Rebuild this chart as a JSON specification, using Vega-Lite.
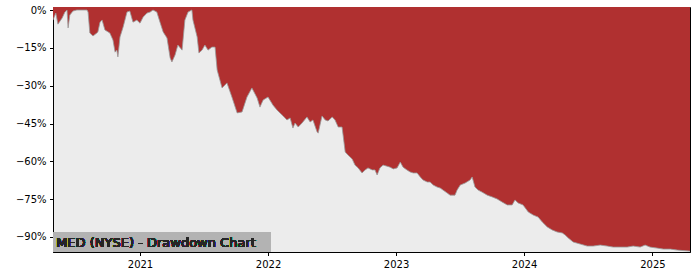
{
  "$schema": "https://vega.github.io/schema/vega-lite/v6.json",
  "width": 637,
  "height": 245,
  "autosize": "none",
  "padding": {"left": 53, "top": 7, "right": 10, "bottom": 28},
  "background": "#ffffff",
  "config": {
    "view": {"fill": "#ececec", "stroke": "#000000", "strokeWidth": 1},
    "axis": {"labelFont": "DejaVu Sans", "labelFontSize": 10, "labelColor": "#000000", "tickColor": "#000000", "tickSize": 3.5, "domainColor": "#000000", "grid": false, "title": null}
  },
  "data": {"values": [
    {"date": "2020-04-28", "dd": -4.0},
    {"date": "2020-05-06", "dd": -1.2},
    {"date": "2020-05-12", "dd": -5.6},
    {"date": "2020-05-24", "dd": -3.2},
    {"date": "2020-06-01", "dd": -0.8},
    {"date": "2020-06-07", "dd": 0},
    {"date": "2020-06-10", "dd": -7.1},
    {"date": "2020-06-15", "dd": -2.0},
    {"date": "2020-06-24", "dd": -0.4},
    {"date": "2020-07-05", "dd": 0},
    {"date": "2020-08-03", "dd": 0},
    {"date": "2020-08-06", "dd": -0.8},
    {"date": "2020-08-11", "dd": -9.1},
    {"date": "2020-08-20", "dd": -10.3},
    {"date": "2020-08-31", "dd": -9.1},
    {"date": "2020-09-03", "dd": -8.7},
    {"date": "2020-09-09", "dd": -4.8},
    {"date": "2020-09-15", "dd": -4.0},
    {"date": "2020-09-23", "dd": -7.9},
    {"date": "2020-10-07", "dd": -9.1},
    {"date": "2020-10-16", "dd": -11.9},
    {"date": "2020-10-22", "dd": -16.7},
    {"date": "2020-10-27", "dd": -15.9},
    {"date": "2020-10-30", "dd": -18.6},
    {"date": "2020-11-05", "dd": -10.7},
    {"date": "2020-11-14", "dd": -6.7},
    {"date": "2020-11-25", "dd": -0.8},
    {"date": "2020-12-03", "dd": -0.4},
    {"date": "2020-12-12", "dd": -4.8},
    {"date": "2020-12-23", "dd": -4.0},
    {"date": "2021-01-01", "dd": -5.2},
    {"date": "2021-01-10", "dd": -2.8},
    {"date": "2021-01-21", "dd": -1.2},
    {"date": "2021-01-30", "dd": -0.8},
    {"date": "2021-02-07", "dd": 0},
    {"date": "2021-02-18", "dd": -0.8},
    {"date": "2021-02-27", "dd": -4.8},
    {"date": "2021-03-08", "dd": -8.7},
    {"date": "2021-03-19", "dd": -11.1},
    {"date": "2021-03-28", "dd": -19.0},
    {"date": "2021-04-02", "dd": -20.6},
    {"date": "2021-04-11", "dd": -17.8},
    {"date": "2021-04-19", "dd": -13.9},
    {"date": "2021-05-01", "dd": -15.9},
    {"date": "2021-05-09", "dd": -4.0},
    {"date": "2021-05-18", "dd": -0.8},
    {"date": "2021-05-29", "dd": 0},
    {"date": "2021-06-01", "dd": -4.0},
    {"date": "2021-06-13", "dd": -10.7},
    {"date": "2021-06-18", "dd": -17.0},
    {"date": "2021-06-27", "dd": -15.9},
    {"date": "2021-07-05", "dd": -13.9},
    {"date": "2021-07-14", "dd": -15.9},
    {"date": "2021-07-25", "dd": -14.7},
    {"date": "2021-08-03", "dd": -14.7},
    {"date": "2021-08-09", "dd": -23.8},
    {"date": "2021-08-23", "dd": -30.9},
    {"date": "2021-09-06", "dd": -28.9},
    {"date": "2021-09-20", "dd": -34.5},
    {"date": "2021-10-05", "dd": -40.8},
    {"date": "2021-10-19", "dd": -40.4},
    {"date": "2021-11-02", "dd": -34.5},
    {"date": "2021-11-16", "dd": -30.9},
    {"date": "2021-12-01", "dd": -34.9},
    {"date": "2021-12-09", "dd": -38.5},
    {"date": "2021-12-18", "dd": -35.7},
    {"date": "2022-01-01", "dd": -34.5},
    {"date": "2022-01-15", "dd": -37.7},
    {"date": "2022-01-27", "dd": -39.7},
    {"date": "2022-02-04", "dd": -40.8},
    {"date": "2022-02-13", "dd": -42.0},
    {"date": "2022-02-24", "dd": -43.6},
    {"date": "2022-03-05", "dd": -42.8},
    {"date": "2022-03-13", "dd": -46.8},
    {"date": "2022-03-19", "dd": -44.8},
    {"date": "2022-03-28", "dd": -46.4},
    {"date": "2022-04-08", "dd": -44.8},
    {"date": "2022-04-22", "dd": -42.4},
    {"date": "2022-05-01", "dd": -44.4},
    {"date": "2022-05-09", "dd": -43.6},
    {"date": "2022-05-21", "dd": -48.4},
    {"date": "2022-05-24", "dd": -48.8},
    {"date": "2022-06-04", "dd": -42.0},
    {"date": "2022-06-13", "dd": -43.6},
    {"date": "2022-06-21", "dd": -44.0},
    {"date": "2022-07-03", "dd": -42.4},
    {"date": "2022-07-11", "dd": -43.6},
    {"date": "2022-07-20", "dd": -46.4},
    {"date": "2022-07-31", "dd": -46.4},
    {"date": "2022-08-03", "dd": -49.6},
    {"date": "2022-08-09", "dd": -56.3},
    {"date": "2022-08-17", "dd": -57.5},
    {"date": "2022-08-29", "dd": -59.1},
    {"date": "2022-09-06", "dd": -61.5},
    {"date": "2022-09-15", "dd": -62.6},
    {"date": "2022-09-26", "dd": -64.6},
    {"date": "2022-10-05", "dd": -63.4},
    {"date": "2022-10-13", "dd": -62.6},
    {"date": "2022-10-25", "dd": -63.4},
    {"date": "2022-11-02", "dd": -63.4},
    {"date": "2022-11-08", "dd": -65.4},
    {"date": "2022-11-16", "dd": -62.6},
    {"date": "2022-11-25", "dd": -61.5},
    {"date": "2022-12-06", "dd": -61.9},
    {"date": "2022-12-15", "dd": -62.3},
    {"date": "2022-12-24", "dd": -63.0},
    {"date": "2023-01-04", "dd": -62.6},
    {"date": "2023-01-13", "dd": -60.3},
    {"date": "2023-01-21", "dd": -62.3},
    {"date": "2023-02-01", "dd": -63.4},
    {"date": "2023-02-10", "dd": -64.2},
    {"date": "2023-02-19", "dd": -64.6},
    {"date": "2023-03-02", "dd": -64.6},
    {"date": "2023-03-11", "dd": -66.2},
    {"date": "2023-03-19", "dd": -67.4},
    {"date": "2023-03-31", "dd": -68.2},
    {"date": "2023-04-08", "dd": -68.2},
    {"date": "2023-04-17", "dd": -69.4},
    {"date": "2023-04-28", "dd": -70.2},
    {"date": "2023-05-07", "dd": -70.6},
    {"date": "2023-05-15", "dd": -71.4},
    {"date": "2023-05-27", "dd": -72.6},
    {"date": "2023-06-04", "dd": -73.4},
    {"date": "2023-06-18", "dd": -73.4},
    {"date": "2023-06-24", "dd": -71.4},
    {"date": "2023-07-03", "dd": -69.4},
    {"date": "2023-07-17", "dd": -68.6},
    {"date": "2023-07-31", "dd": -67.4},
    {"date": "2023-08-06", "dd": -66.2},
    {"date": "2023-08-14", "dd": -70.2},
    {"date": "2023-08-23", "dd": -71.4},
    {"date": "2023-09-03", "dd": -72.2},
    {"date": "2023-09-18", "dd": -73.4},
    {"date": "2023-10-02", "dd": -74.1},
    {"date": "2023-10-16", "dd": -74.9},
    {"date": "2023-10-30", "dd": -76.1},
    {"date": "2023-11-14", "dd": -77.3},
    {"date": "2023-11-28", "dd": -77.3},
    {"date": "2023-12-06", "dd": -75.3},
    {"date": "2023-12-15", "dd": -76.5},
    {"date": "2023-12-29", "dd": -77.3},
    {"date": "2024-01-13", "dd": -80.1},
    {"date": "2024-01-27", "dd": -81.3},
    {"date": "2024-02-10", "dd": -82.1},
    {"date": "2024-02-22", "dd": -84.1},
    {"date": "2024-03-07", "dd": -86.0},
    {"date": "2024-03-21", "dd": -87.2},
    {"date": "2024-04-04", "dd": -88.0},
    {"date": "2024-04-19", "dd": -88.4},
    {"date": "2024-04-27", "dd": -89.2},
    {"date": "2024-05-06", "dd": -90.4},
    {"date": "2024-05-20", "dd": -92.0},
    {"date": "2024-06-09", "dd": -92.8},
    {"date": "2024-06-29", "dd": -93.6},
    {"date": "2024-07-16", "dd": -93.6},
    {"date": "2024-08-05", "dd": -93.2},
    {"date": "2024-08-25", "dd": -93.6},
    {"date": "2024-09-11", "dd": -94.0},
    {"date": "2024-10-01", "dd": -94.0},
    {"date": "2024-10-21", "dd": -94.0},
    {"date": "2024-11-07", "dd": -93.6},
    {"date": "2024-11-27", "dd": -94.0},
    {"date": "2024-12-11", "dd": -93.2},
    {"date": "2024-12-25", "dd": -94.0},
    {"date": "2025-01-14", "dd": -94.4},
    {"date": "2025-02-01", "dd": -94.8},
    {"date": "2025-02-21", "dd": -94.8},
    {"date": "2025-03-13", "dd": -95.2},
    {"date": "2025-04-18", "dd": -95.6}
  ]},
  "layer": [
    {
      "mark": {"type": "area", "color": "#b03030", "clip": true},
      "encoding": {
        "x": {"field": "date", "type": "temporal",
          "scale": {"domain": [{"year": 2020, "month": 4, "date": 28}, {"year": 2025, "month": 4, "date": 18}]},
          "axis": {"values": [{"year": 2021, "month": 1, "date": 1}, {"year": 2022, "month": 1, "date": 1}, {"year": 2023, "month": 1, "date": 1}, {"year": 2024, "month": 1, "date": 1}, {"year": 2025, "month": 1, "date": 1}], "format": "%Y", "labelPadding": 3.5, "labelAlign": "center"}},
        "y": {"field": "dd", "type": "quantitative",
          "scale": {"domain": [-95.95, 1.2], "zero": false, "nice": false},
          "axis": {"values": [0, -15, -30, -45, -60, -75, -90], "labelExpr": "format(datum.value, 'd') + '%'", "labelPadding": 3.5}},
        "y2": {"datum": 1.2}
      }
    },
    {
      "mark": {"type": "line", "color": "#999999", "strokeWidth": 0.8, "clip": true},
      "encoding": {
        "x": {"field": "date", "type": "temporal"},
        "y": {"field": "dd", "type": "quantitative"}
      }
    },
    {
      "mark": {"type": "rect", "color": "#b3b3b3", "clip": true},
      "encoding": {
        "x": {"datum": {"year": 2020, "month": 4, "date": 28}, "type": "temporal"},
        "x2": {"datum": {"year": 2022, "month": 1, "date": 9}},
        "y": {"datum": -95.95, "type": "quantitative"},
        "y2": {"datum": -88.0}
      }
    },
    {
      "mark": {"type": "text", "text": "MED (NYSE) - Drawdown Chart", "font": "DejaVu Sans", "fontSize": 13, "fontWeight": "normal", "fill": "#262626", "align": "left", "baseline": "alphabetic"},
      "encoding": {
        "x": {"datum": {"year": 2020, "month": 5, "date": 7}, "type": "temporal"},
        "y": {"datum": -94.0, "type": "quantitative"}
      }
    }
  ]
}
